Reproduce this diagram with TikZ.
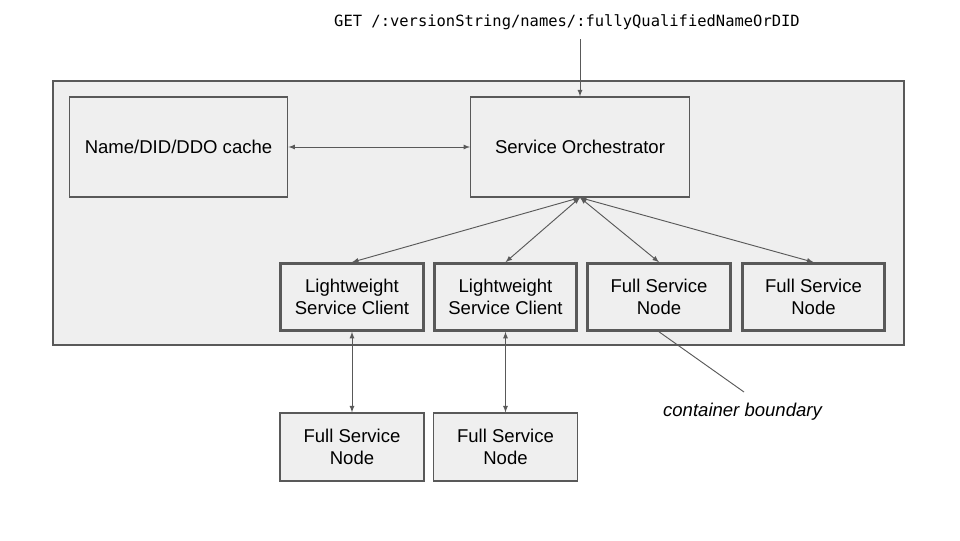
\documentclass[tikz,border=0pt]{standalone}
\usepackage{fontspec}
\setmainfont{Liberation Sans}
\setmonofont{DejaVu Sans Mono}
\usetikzlibrary{arrows,positioning}
\definecolor{boxfill}{HTML}{EFEFEF}
\definecolor{boxline}{HTML}{595959}
\tikzset{%
	container/.style = {draw=boxline, line width=0.9pt, fill=boxfill, rectangle, minimum width=638.25pt, minimum height=198pt},
	bigbox/.style    = {draw=boxline, line width=0.9pt, fill=boxfill, rectangle, minimum width=164pt, minimum height=75pt, text centered},
	nodebox/.style   = {draw=boxline, line width=2.2pt, fill=boxfill, rectangle, minimum width=107pt, minimum height=50pt, align=center, inner sep=0pt},
	outbox/.style    = {draw=boxline, line width=0.9pt, fill=boxfill, rectangle, minimum width=108pt, minimum height=51pt, align=center, inner sep=0pt},
	link/.style      = {draw=boxline, line width=0.7pt, latex-latex},
	arrow/.style     = {draw=boxline, line width=0.7pt, -latex},
}
\begin{document}
\begin{tikzpicture}[x=0.75pt,y=-0.75pt,font=\fontsize{13.9}{16.5}\selectfont]
	\useasboundingbox (0,0) rectangle (960,540);
	
	\node[container] (box) at (478.5,213) {};
	\node[bigbox] (cache) at (178.5,147) {Name/DID/DDO cache};
	\node[bigbox] (orch) at (580,147) {Service Orchestrator};
	
	\node[nodebox] (lsc1) at (352,297) {Lightweight\\Service Client};
	\node[nodebox] (lsc2) at (505.5,297) {Lightweight\\Service Client};
	\node[nodebox] (fsn1) at (659,297) {Full Service\\Node};
	\node[nodebox] (fsn2) at (813.5,297) {Full Service\\Node};
	
	\node[outbox] (ext1) at (352,447) {Full Service\\Node};
	\node[outbox] (ext2) at (505.5,447) {Full Service\\Node};
	
	\node[font=\fontsize{11.6}{14}\ttfamily] (get) at (567,22) {GET /:versionString/names/:fullyQualifiedNameOrDID};
	\node[font=\fontsize{13.9}{16.5}\itshape] (note) at (742.5,412) {container boundary};
	\coordinate (noteend) at (744,392);
	
	\draw[arrow] (get.south -| orch.north) ++(0,5) -- (orch.north);
	\draw[link] (cache) -- (orch);
	\foreach \n in {lsc1,lsc2,fsn1,fsn2} \draw[link] (orch.south) -- (\n.north);
	\draw[link] (lsc1) -- (ext1);
	\draw[link] (lsc2) -- (ext2);
	\draw[boxline, line width=0.7pt] (fsn1.south) -- (noteend);
\end{tikzpicture}
\end{document}
